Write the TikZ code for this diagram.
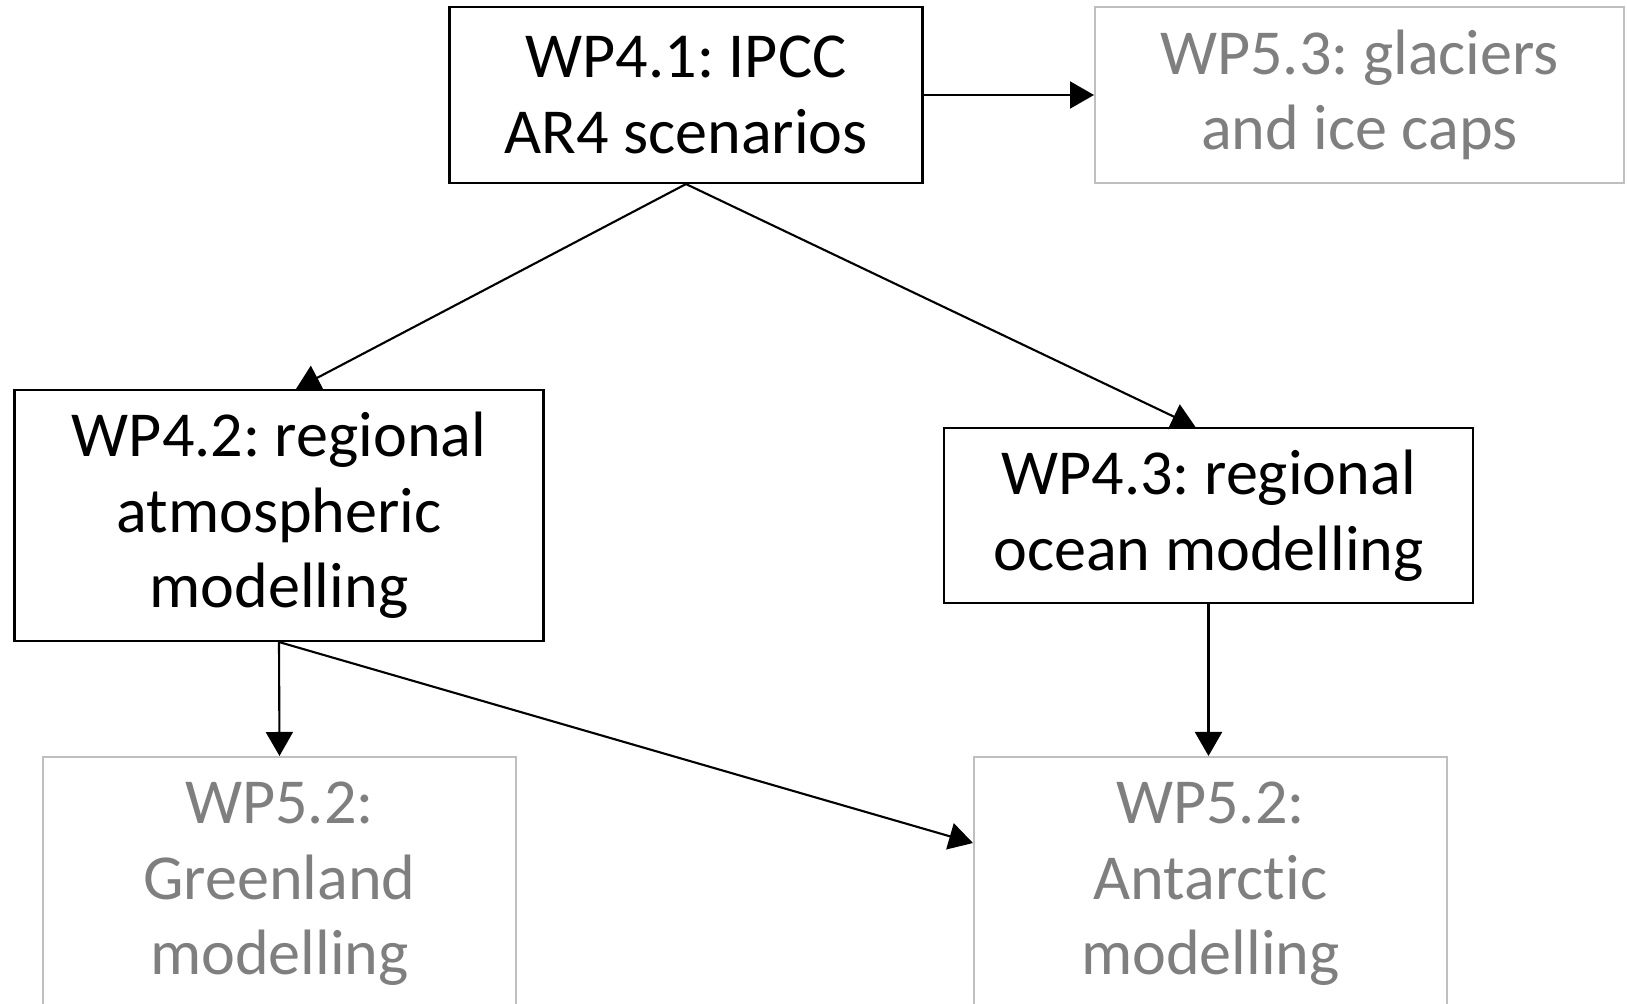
\documentclass[tikz,border=0pt]{standalone}
\usepackage{fontspec}
\setmainfont{Carlito}[Ligatures=NoCommon]
\usetikzlibrary{arrows.meta}
\definecolor{wpgray}{RGB}{127,127,127}
\definecolor{wpline}{RGB}{191,191,191}
\tikzset{
  wp/.style={draw, line width=1.2pt, align=center, inner sep=0pt,
    font=\fontsize{36.5}{43}\selectfont\frenchspacing},
  later/.style={wp, draw=wpline, text=wpgray},
}
\begin{document}
\begin{tikzpicture}[x=0.02cm, y=-0.02cm]
      \clip (0,0) rectangle (1627,1004);
      \draw
        (686,95) node[wp, minimum width=9.46cm, minimum height=3.52cm] (wp41) {WP4.1: IPCC\\AR4 scenarios}
        (1359.5,95) node[later, minimum width=10.58cm, minimum height=3.52cm] (wp53) {WP5.3: glaciers\\and ice caps}
        (279,515.5) node[wp, minimum width=10.58cm, minimum height=5.02cm] (wp42) {WP4.2: regional\\atmospheric\\modelling}
        (1208.5,515.5) node[wp, minimum width=10.58cm, minimum height=3.5cm] (wp43) {WP4.3: regional\\ocean modelling}
        (279.5,884) node[later, minimum width=9.46cm, minimum height=5.08cm] (wp52g) {WP5.2:\\Greenland\\modelling}
        (1210.5,884) node[later, minimum width=9.46cm, minimum height=5.08cm] (wp52a) {WP5.2:\\Antarctic\\modelling};
      \begin{scope}[-{Triangle[length=4.8mm,width=5.4mm]}, line width=1.2pt]
        \draw (wp41) to (wp53);
        \draw (wp41.south) to ([xshift=0.34cm]wp42.north);
        \draw (wp41.south) to ([xshift=-0.26cm]wp43.north);
        \draw (wp42.south) to (wp52g.north);
        \draw (wp42.south) to ([yshift=0.82cm]wp52a.west);
        \draw (wp43.south) to (wp43.south |- wp52a.north);
      \end{scope}
\end{tikzpicture}
\end{document}
